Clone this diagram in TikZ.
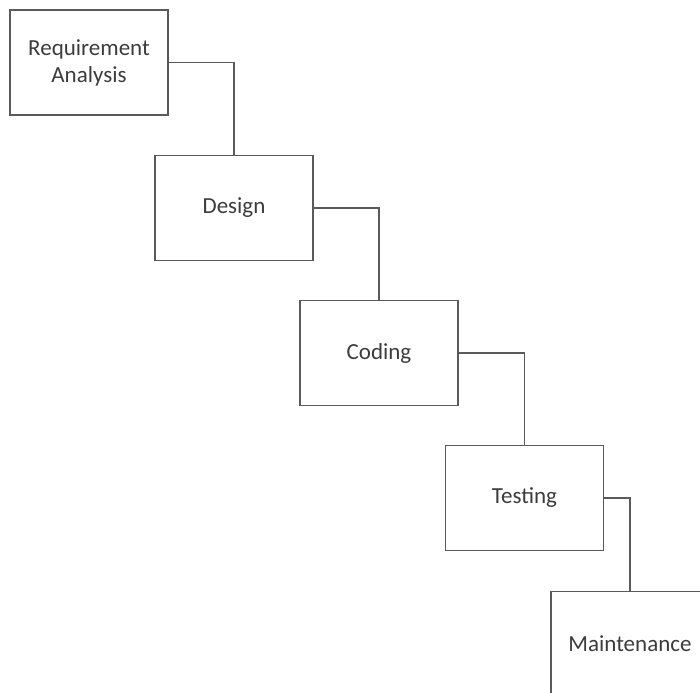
\documentclass[tikz,border=0pt]{standalone}
\usepackage{fontspec}
\setmainfont{Carlito}
\usepackage{tikz}
\usetikzlibrary{positioning}
\definecolor{boxline}{HTML}{5A5A5A}
\definecolor{boxtext}{HTML}{3C3C3C}

\begin{document}
\begin{tikzpicture}[x=1pt,y=-1pt,draw=boxline,line width=1.4pt]
    \tikzstyle{phase}=[draw,rectangle,minimum width=158pt,minimum height=105pt,inner sep=0pt,
        align=center,text=boxtext,font=\fontsize{23}{27}\selectfont]
    \tikzstyle{link}=[draw=boxline,line width=1.6pt]

\useasboundingbox (0,0) rectangle (700,692);
\clip (0,0) rectangle (700,692);

\node[phase] (req) at (89,62.5) {Requirement\\Analysis};
\node[phase] (des) at (234,208) {Design};
\node[phase] (cod) at (379,353) {Coding};
\node[phase] (tst) at (524.5,498) {Testing};
\node[phase] (mnt) at (630,644) {Maintenance};

\draw[link] (req.east) -| (des.north);
\draw[link] (des.east) -| (cod.north);
\draw[link] (cod.east) -| (tst.north);
\draw[link] (tst.east) -| (mnt.north);
\end{tikzpicture}
\end{document}
